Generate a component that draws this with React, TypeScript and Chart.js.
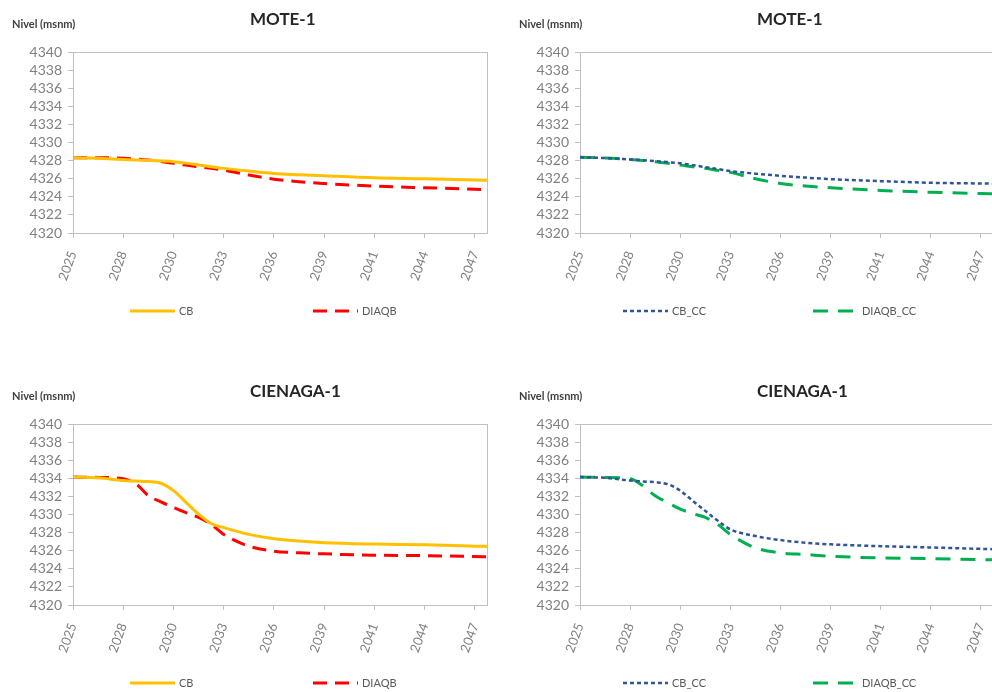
import React, { useEffect, useRef } from "react";
import { Chart, registerables } from "chart.js";

Chart.register(...registerables);

const tickLabels = ["2025", "2028", "2030", "2033", "2036", "2039", "2041", "2044", "2047"];
const xPositions = [0, 0.5, 1, 1.25, 1.5, 1.75, 2, 2.25, 2.5, 2.75, 3, 3.5, 4, 4.5, 5, 6, 7, 8, 8.24];
const yTicksMin = 4320;
const yTicksMax = 4340;
const yTickStep = 2;

const moteCB = [4328.32, 4328.25, 4328.13, 4328.08, 4328.02, 4327.96, 4327.88, 4327.72, 4327.52, 4327.32, 4327.14, 4326.84, 4326.58, 4326.44, 4326.32, 4326.1, 4325.99, 4325.86, 4325.83];
const moteDIAQB = [4328.32, 4328.32, 4328.25, 4328.18, 4328.06, 4327.9, 4327.7, 4327.5, 4327.32, 4327.14, 4326.95, 4326.4, 4325.95, 4325.66, 4325.47, 4325.18, 4325.0, 4324.84, 4324.78];
const moteCBCC = [4328.36, 4328.28, 4328.13, 4328.05, 4327.95, 4327.83, 4327.7, 4327.5, 4327.28, 4327.06, 4326.84, 4326.56, 4326.32, 4326.12, 4325.95, 4325.73, 4325.55, 4325.47, 4325.45];
const moteDIAQBCC = [4328.36, 4328.3, 4328.13, 4328.02, 4327.88, 4327.7, 4327.5, 4327.33, 4327.14, 4326.92, 4326.7, 4326.0, 4325.47, 4325.2, 4325.0, 4324.7, 4324.5, 4324.36, 4324.33];
const cienagaCB = [4334.13, 4334.05, 4333.75, 4333.7, 4333.64, 4333.45, 4332.64, 4331.35, 4330.04, 4329.0, 4328.55, 4327.8, 4327.32, 4327.06, 4326.88, 4326.73, 4326.65, 4326.5, 4326.47];
const cienagaDIAQB = [4334.13, 4334.1, 4333.94, 4333.4, 4332.08, 4331.4, 4330.78, 4330.2, 4329.67, 4328.9, 4327.8, 4326.5, 4325.95, 4325.76, 4325.65, 4325.5, 4325.46, 4325.35, 4325.32];
const cienagaCBCC = [4334.13, 4334.05, 4333.75, 4333.65, 4333.57, 4333.35, 4332.64, 4331.5, 4330.4, 4329.3, 4328.36, 4327.62, 4327.17, 4326.88, 4326.7, 4326.5, 4326.36, 4326.2, 4326.17];
const cienagaDIAQBCC = [4334.13, 4334.1, 4333.94, 4333.2, 4332.08, 4331.3, 4330.6, 4330.1, 4329.67, 4328.9, 4327.8, 4326.32, 4325.76, 4325.58, 4325.39, 4325.2, 4325.13, 4325.02, 4325.0];

const FONT = "Lato, 'Open Sans', sans-serif";

type SeriesDef = { label: string; values: number[]; color: string; dash: number[]; width: number };

const STYLE = {
  CB: { color: "#FFC000", dash: [], width: 3 },
  DIAQB: { color: "#FF0000", dash: [14, 8], width: 3 },
  CB_CC: { color: "#2F5597", dash: [4, 3], width: 2.5 },
  DIAQB_CC: { color: "#00B050", dash: [15, 10], width: 3 },
};

const overlayPlugin = {
  id: "overlay",
  beforeDatasetsDraw(chart: any) {
    const { ctx, chartArea } = chart;
    ctx.save();
    ctx.strokeStyle = "#BFBFBF";
    ctx.lineWidth = 1;
    ctx.strokeRect(Math.round(chartArea.left) + 0.5, Math.round(chartArea.top) + 0.5, Math.round(chartArea.right - chartArea.left), Math.round(chartArea.bottom - chartArea.top));
    ctx.restore();
  },
  afterDraw(chart: any) {
    const { ctx, chartArea } = chart;
    const opts = chart.options.plugins.overlay;
    ctx.save();
    ctx.textBaseline = "middle";
    ctx.textAlign = "left";
    ctx.fillStyle = "#262626";
    ctx.font = `bold 17px ${FONT}`;
    ctx.fillText(opts.title, chartArea.left + 177, 20);
    ctx.fillStyle = "#404040";
    ctx.font = `bold 11px ${FONT}`;
    ctx.fillText("Nivel (msnm)", chartArea.left - 61, 24);
    // legend
    const ly = chartArea.bottom + 78;
    chart.data.datasets.forEach((ds: any, i: number) => {
      const lx = chartArea.left + opts.legendX[i];
      ctx.beginPath();
      ctx.setLineDash(ds.borderDash || []);
      ctx.strokeStyle = ds.borderColor;
      ctx.lineWidth = ds.borderWidth;
      ctx.moveTo(lx, ly);
      ctx.lineTo(lx + 45, ly);
      ctx.stroke();
      ctx.setLineDash([]);
      ctx.fillStyle = "#595959";
      ctx.font = `11px ${FONT}`;
      ctx.fillText(ds.label, lx + 49, ly);
    });
    ctx.restore();
  },
};

function Panel({ title, series, left, top, width, padRight, legendX }: { title: string; series: SeriesDef[]; left: number; top: number; width: number; padRight: number; legendX: number[] }) {
  const ref = useRef<HTMLCanvasElement>(null);
  useEffect(() => {
    const chart = new Chart(ref.current!, {
      type: "line",
      data: {
        datasets: series.map((s) => ({
          label: s.label,
          data: xPositions.map((x, i) => ({ x, y: s.values[i] })),
          borderColor: s.color,
          backgroundColor: s.color,
          borderDash: s.dash,
          borderWidth: s.width,
          pointRadius: 0,
          cubicInterpolationMode: "monotone",
          fill: false,
        })),
      },
      options: {
        animation: false,
        responsive: false,
        devicePixelRatio: 1,
        layout: { padding: { top: 52, right: padRight, left: 28, bottom: 0 } },
        plugins: {
          overlay: { title, legendX },
          title: { display: false },
          tooltip: { enabled: false },
          legend: { display: false },
        } as any,
        scales: {
          x: {
            type: "linear",
            min: 0,
            max: 8.24,
            afterBuildTicks: (scale: any) => {
              scale.ticks = tickLabels.map((_, i) => ({ value: i }));
            },
            afterFit: (scale: any) => {
              scale.height = 87;
            },
            ticks: {
              autoSkip: false,
              minRotation: 70,
              maxRotation: 70,
              padding: 11,
              color: "#808080",
              font: { family: FONT, size: 13 },
              callback: (v: any) => tickLabels[Math.round(Number(v))] ?? "",
            },
            grid: { drawOnChartArea: false, color: "#BFBFBF", tickLength: 5 },
            border: { color: "#BFBFBF" },
          },
          y: {
            min: yTicksMin,
            max: yTicksMax,
            afterFit: (scale: any) => {
              scale.width = 45;
            },
            ticks: {
              stepSize: yTickStep,
              autoSkip: false,
              color: "#808080",
              padding: 6,
              font: { family: FONT, size: 14 },
              callback: (v: any) => String(v),
            },
            grid: { drawOnChartArea: false, color: "#BFBFBF", tickLength: 5 },
            border: { color: "#BFBFBF" },
          },
        },
      } as any,
      plugins: [overlayPlugin],
    });
    return () => chart.destroy();
  }, []);
  return (
    <canvas
      ref={ref}
      width={width}
      height={320}
      style={{ position: "absolute", left, top, width, height: 320 }}
    />
  );
}

const s = (label: keyof typeof STYLE, values: number[]): SeriesDef => ({ label, values, ...STYLE[label] });

export default function App() {
  return (
    <div style={{ position: "fixed", left: 0, top: 0, width: 992, height: 692, overflow: "hidden", background: "#fff" }}>
      <Panel title="MOTE-1" left={0} top={0} width={512} padRight={25} legendX={[57, 240]} series={[s("CB", moteCB), s("DIAQB", moteDIAQB)]} />
      <Panel title="MOTE-1" left={507} top={0} width={500} padRight={13} legendX={[43, 233]} series={[s("CB_CC", moteCBCC), s("DIAQB_CC", moteDIAQBCC)]} />
      <Panel title="CIENAGA-1" left={0} top={372} width={512} padRight={25} legendX={[57, 240]} series={[s("CB", cienagaCB), s("DIAQB", cienagaDIAQB)]} />
      <Panel title="CIENAGA-1" left={507} top={372} width={500} padRight={13} legendX={[43, 233]} series={[s("CB_CC", cienagaCBCC), s("DIAQB_CC", cienagaDIAQBCC)]} />
    </div>
  );
}
